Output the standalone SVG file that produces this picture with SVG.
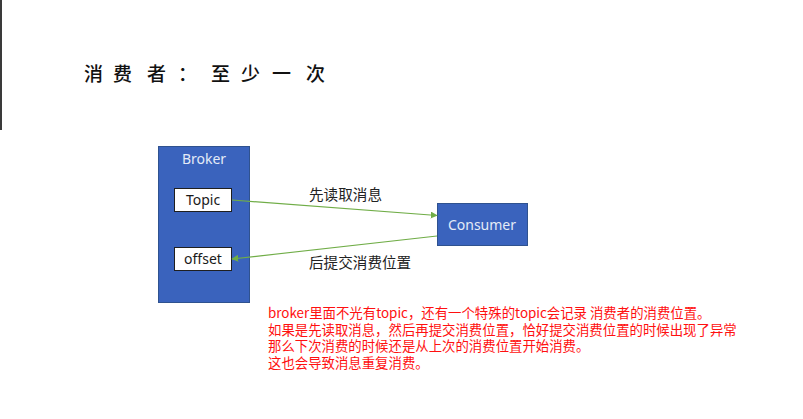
<svg xmlns="http://www.w3.org/2000/svg" width="803" height="419" viewBox="0 0 803 419">
  <style>
    .cjk { font-family: "Microsoft YaHei", "Noto Sans CJK SC", "Noto Sans", sans-serif; }
    .box { fill: #3a63bd; stroke: #2f528f; stroke-width: 1; }
    .slot { fill: #ffffff; stroke: #1f1f1f; stroke-width: 1; }
    .boxlabel { font-family: "Noto Sans", "Open Sans", sans-serif; font-size: 14px; fill: #e4ebf7; text-anchor: middle; }
    .slotlabel { font-family: "Noto Sans", "Open Sans", sans-serif; font-size: 14px; fill: #1a1a1a; text-anchor: middle; }
    .edge { stroke: #70ad47; stroke-width: 1.2; fill: none; marker-end: url(#arrow); }
    .edgelabel { font-size: 14.6px; fill: #222222; }
    .note { font-size: 13.4px; fill: #ff1010; }
  </style>
  <defs>
    <marker id="arrow" viewBox="0 0 10 10" refX="9" refY="5" markerWidth="7" markerHeight="7" markerUnits="userSpaceOnUse" orient="auto">
      <path d="M0,0 L10,5 L0,10 z" fill="#70ad47"/>
    </marker>
  </defs>

  <rect x="0" y="0" width="803" height="419" fill="#ffffff"/>
  <rect x="0" y="0" width="2" height="130" fill="#3a3a3a"/>

  <!-- heading -->
  <text class="cjk" font-size="19" font-weight="500" fill="#111111" y="81"><tspan x="84">消</tspan><tspan x="113">费</tspan><tspan x="147">者</tspan><tspan x="178">：</tspan><tspan x="211">至</tspan><tspan x="241">少</tspan><tspan x="272">一</tspan><tspan x="306">次</tspan></text>

  <!-- broker with its two internal records -->
  <g id="broker">
    <rect class="box" x="158.5" y="146.5" width="91" height="156"/>
    <text class="boxlabel" x="204" y="164">Broker</text>
  </g>
  <g id="topic">
    <rect class="slot" x="174.5" y="188.5" width="57" height="23"/>
    <text class="slotlabel" x="203" y="205">Topic</text>
  </g>
  <g id="offset">
    <rect class="slot" x="174.5" y="247.5" width="57" height="23"/>
    <text class="slotlabel" x="203" y="264">offset</text>
  </g>

  <g id="consumer">
    <rect class="box" x="437.5" y="203.5" width="90" height="42"/>
    <text class="boxlabel" x="482" y="230">Consumer</text>
  </g>

  <!-- connectors -->
  <g id="edges">
    <line class="edge" x1="232" y1="200" x2="437" y2="215.5"/>
    <line class="edge" x1="437" y1="236" x2="232" y2="259"/>
    <text class="cjk edgelabel" x="309" y="200">先读取消息</text>
    <text class="cjk edgelabel" x="309" y="268">后提交消费位置</text>
  </g>

  <!-- explanatory note -->
  <g id="note" class="cjk note">
    <text x="268" y="318">broker里面不光有topic，还有一个特殊的topic会记录 消费者的消费位置。</text>
    <text x="268" y="334.5">如果是先读取消息，然后再提交消费位置，恰好提交消费位置的时候出现了异常</text>
    <text x="268" y="351">那么下次消费的时候还是从上次的消费位置开始消费。</text>
    <text x="268" y="368">这也会导致消息重复消费。</text>
  </g>
</svg>
